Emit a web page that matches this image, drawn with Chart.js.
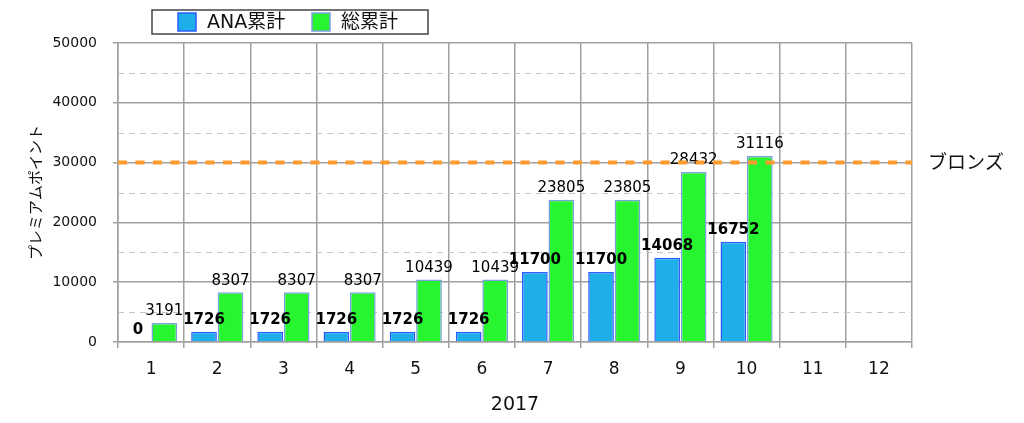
<!DOCTYPE html>
<html>
<head>
<meta charset="utf-8">
<script src="https://cdn.jsdelivr.net/npm/chart.js@4.4.0/dist/chart.umd.min.js"></script>
<style>
  body { margin: 0; background: #fff; }
  canvas { display: block; }
</style>
</head>
<body>
<canvas id="pointChart" width="1024" height="423"></canvas>
<script>
// chart data
const months = ['1', '2', '3', '4', '5', '6', '7', '8', '9', '10', '11', '12'];
const anaValues = [0, 1726, 1726, 1726, 1726, 1726, 11700, 11700, 14068, 16752, null, null];
const totalValues = [3191, 8307, 8307, 8307, 10439, 10439, 23805, 23805, 28432, 31116, null, null];
const bronzeValue = 30000;
const bronzeLabel = 'ブロンズ';
const yMax = 50000;
const yStep = 5000;

const jpFont = '"DejaVu Sans", "Noto Sans CJK JP", sans-serif';

// minor dashed gridlines, value labels, bronze line, legend box
const extrasPlugin = {
    id: 'extras',
    beforeDatasetsDraw(chart) {
        const { ctx, chartArea, scales } = chart;
        ctx.save();
        ctx.strokeStyle = '#c4c4c4';
        ctx.lineWidth = 1.2;
        ctx.setLineDash([6, 5]);
        for (let v = yStep; v < yMax; v += yStep * 2) {
            const y = Math.round(scales.y.getPixelForValue(v)) + 0.5;
            ctx.beginPath();
            ctx.moveTo(chartArea.left, y);
            ctx.lineTo(chartArea.right, y);
            ctx.stroke();
        }
        ctx.restore();
    },
    afterDraw(chart) {
        const { ctx, chartArea, scales } = chart;

        // bar value labels
        ctx.save();
        ctx.textAlign = 'center';
        ctx.textBaseline = 'bottom';
        ctx.fillStyle = '#000';
        chart.data.datasets.forEach((ds, di) => {
            const meta = chart.getDatasetMeta(di);
            ctx.font = (di === 0 ? 'bold ' : '') + '15px ' + jpFont;
            meta.data.forEach((bar, i) => {
                const v = ds.data[i];
                if (v === null || v === undefined) return;
                ctx.fillText(String(v), bar.x, bar.y - 4);
            });
        });
        ctx.restore();

        // bronze threshold line
        const by = scales.y.getPixelForValue(bronzeValue);
        ctx.save();
        ctx.strokeStyle = '#ff9a2e';
        ctx.lineWidth = 4;
        ctx.setLineDash([9, 8.5]);
        ctx.beginPath();
        ctx.moveTo(chartArea.left, by);
        ctx.lineTo(chartArea.right, by);
        ctx.stroke();
        ctx.setLineDash([]);
        ctx.fillStyle = '#111';
        ctx.font = '19px ' + jpFont;
        ctx.textAlign = 'left';
        ctx.textBaseline = 'middle';
        ctx.fillText(bronzeLabel, chartArea.right + 16, by + 1);
        ctx.restore();

        // legend
        ctx.save();
        ctx.fillStyle = '#fff';
        ctx.strokeStyle = '#444';
        ctx.lineWidth = 1.5;
        ctx.fillRect(152, 10, 276, 24);
        ctx.strokeRect(152, 10, 276, 24);
        ctx.font = '19px ' + jpFont;
        ctx.textBaseline = 'middle';
        ctx.textAlign = 'left';
        const items = [
            { x: 178, ds: chart.data.datasets[0] },
            { x: 312, ds: chart.data.datasets[1] }
        ];
        items.forEach(it => {
            ctx.fillStyle = it.ds.backgroundColor;
            ctx.strokeStyle = it.ds.borderColor;
            ctx.lineWidth = 1.5;
            ctx.fillRect(it.x, 13, 18, 18);
            ctx.strokeRect(it.x, 13, 18, 18);
            ctx.fillStyle = '#111';
            ctx.fillText(it.ds.label, it.x + 29, 23);
        });
        ctx.restore();
    }
};

new Chart(document.getElementById('pointChart'), {
    type: 'bar',
    data: {
        labels: months,
        datasets: [{
            label: 'ANA累計',
            data: anaValues,
            backgroundColor: '#1eaeea',
            borderColor: '#2a5cff',
            borderWidth: 1.5,
            categoryPercentage: 0.8,
            barPercentage: 0.97
        }, {
            label: '総累計',
            data: totalValues,
            backgroundColor: '#27f52f',
            borderColor: '#7aa0e0',
            borderWidth: 1.5,
            categoryPercentage: 0.8,
            barPercentage: 0.97
        }]
    },
    options: {
        responsive: false,
        devicePixelRatio: 1,
        animation: false,
        layout: {
            padding: { left: 0, right: 112, top: 43, bottom: 0 }
        },
        plugins: {
            legend: { display: false },
            tooltip: { enabled: false }
        },
        scales: {
            x: {
                afterFit(scale) { scale.height = 81; },
                grid: {
                    offset: true,
                    color: '#a0a0a0',
                    lineWidth: 1.5,
                    tickLength: 6,
                    tickColor: '#a0a0a0'
                },
                border: { color: '#a0a0a0', width: 1.5 },
                ticks: {
                    color: '#111',
                    padding: 11,
                    font: { family: jpFont, size: 17 }
                },
                title: {
                    display: true,
                    text: '2017',
                    color: '#111',
                    font: { family: jpFont, size: 19 },
                    padding: { top: 0, bottom: 7 }
                }
            },
            y: {
                min: 0,
                max: yMax,
                afterFit(scale) { scale.width = 118; },
                grid: {
                    color: c => (c.tick && c.tick.value % 10000 === 0) ? '#a0a0a0' : 'rgba(0,0,0,0)',
                    lineWidth: 1.5,
                    tickLength: 5,
                    tickColor: c => (c.tick && c.tick.value % 10000 === 0) ? '#a0a0a0' : 'rgba(0,0,0,0)'
                },
                border: { color: '#a0a0a0', width: 1.5 },
                ticks: {
                    stepSize: yStep,
                    color: '#111',
                    padding: 16,
                    font: { family: jpFont, size: 14 },
                    callback: v => (v % 10000 === 0 ? String(v) : '')
                },
                title: {
                    display: true,
                    text: 'プレミアムポイント',
                    color: '#111',
                    font: { family: jpFont, size: 15 },
                    padding: { top: 28, bottom: 0 }
                }
            }
        }
    },
    plugins: [extrasPlugin]
});
</script>
</body>
</html>
